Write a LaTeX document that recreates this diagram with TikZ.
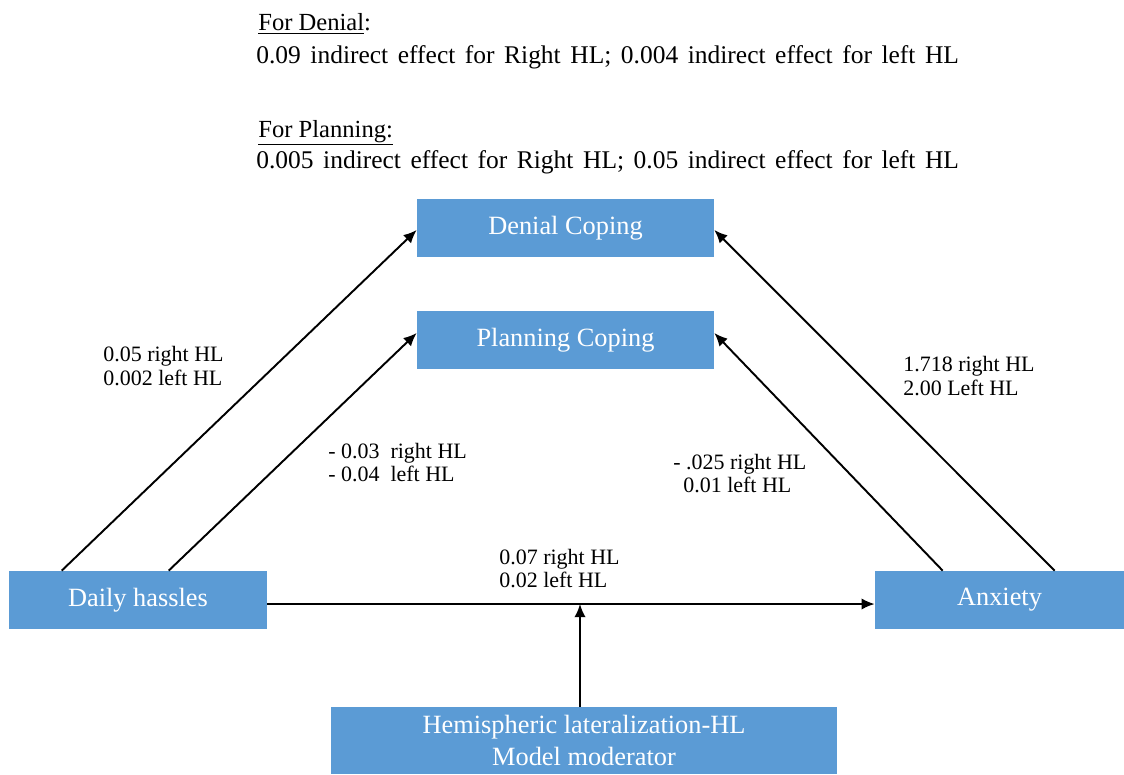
\documentclass[tikz,border=0pt]{standalone}
\usepackage{fontspec}
\setmainfont{Liberation Serif}
\newfontfamily\widefont[WordSpace=1.5]{Liberation Serif}
\usetikzlibrary{arrows.meta}
\usetikzlibrary{positioning}
\usetikzlibrary{calc}
\definecolor{boxblue}{HTML}{5B9BD5}
\tikzset{>=latex}
\newcommand\boxheight{1.16cm}
\newcommand\outcomewidth{5.94cm}
\tikzset{
    var/.style = {fill=boxblue, text=white, inner sep=0pt, minimum height=\boxheight, align=center, font=\fontsize{15}{18}\selectfont},
    outcome/.style = {var, minimum width=\outcomewidth, node distance=2.24cm, on grid},
    effect/.style = {-{Latex[length=7.5pt,width=6.5pt]}, line width=1.1pt},
    coef/.style = {anchor=west, align=left, inner sep=0pt, font=\fontsize{12.5}{13.6}\selectfont},
    note/.style = {anchor=base west, inner sep=0pt, font=\fontsize{14}{17}\selectfont},
    wide note/.style = {note, font=\widefont\fontsize{14.5}{17}\selectfont},
}

\begin{document}
\begin{tikzpicture}[x=0.02cm, y=-0.02cm]
    \useasboundingbox (0,0) rectangle (1124,774);
    % indirect effects
    \node[note] (denialhead) at (258,31) {\underline{For Denial}:};
    \node[wide note] (denialeff) at (256,63) {0.09 indirect effect for Right HL; 0.004 indirect effect for left HL};
    \node[note] (planhead) at (258,137) {\underline{For Planning:}};
    \node[wide note] (planeff) at (256,168) {0.005 indirect effect for Right HL; 0.05 indirect effect for left HL};
    % variables
    \node[outcome] (denial) at (565.5,228) {Denial Coping};
    \node[outcome, below=of denial] (planning) {Planning Coping};
    \node[var, minimum width=5.16cm] (hassles) at (138,600) {Daily hassles};
    \node[var, minimum width=4.98cm] (anxiety) at (999.5,600) {Anxiety};
    \node[var, minimum width=10.12cm, minimum height=1.34cm] (moderator) at (584,740.5) {Hemispheric lateralization-HL\\Model moderator};
    \coordinate (mid) at (580,604);
    % paths
    \draw[effect] ($(hassles.north west)+(53,0)$) -- ($(denial.west)+(0,2)$);
    \draw[effect] ($(hassles.north west)+(160,0)$) -- ($(planning.west)+(0,-7)$);
    \draw[effect] ($(anxiety.north west)+(180,0)$) -- ($(denial.east)+(0,2)$);
    \draw[effect] ($(anxiety.north west)+(68,0)$) -- ($(planning.east)+(0,-7)$);
    \draw[effect] ($(hassles.east)+(0,4)$) -- ($(anxiety.west)+(0,4)$);
    \draw[effect] ($(moderator.north)+(-4,0)$) -- (mid);
    % coefficients
    \node[coef] (hdlabel) at (103,366) {0.05 right HL\\0.002 left HL};
    \node[coef] (hplabel) at (328,462.5) {- 0.03\ \ right HL\\- 0.04\ \ left HL};
    \node[coef] (aplabel) at (673,473.5) {- .025 right HL\\\hspace{0.2cm}0.01 left HL};
    \node[coef] (adlabel) at (903,376) {1.718 right HL\\2.00 Left HL};
    \node[coef] (hamlabel) at (499,568.5) {0.07 right HL\\0.02 left HL};
\end{tikzpicture}
\end{document}
